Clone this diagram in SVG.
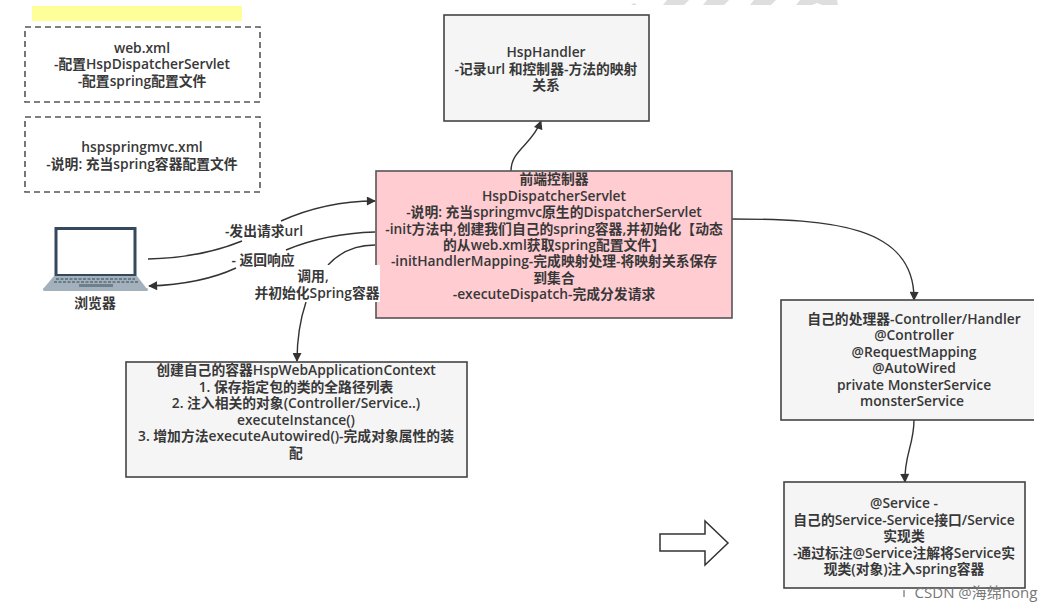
<svg xmlns="http://www.w3.org/2000/svg" width="1053" height="612" viewBox="0 0 1053 612">
<style>
text{font-family:"Open Sans","Noto Sans CJK SC",sans-serif;font-size:13.8px;font-weight:600;fill:#383838;text-anchor:middle}
.b{fill:#f5f5f5;stroke:#444;stroke-width:1.6}
.d{fill:#fff;stroke:#555;stroke-width:1.6;stroke-dasharray:6 4}
.c{fill:none;stroke:#333;stroke-width:1.4}
</style>
<defs><marker id="a" viewBox="0 0 10 10" refX="9" refY="5" markerWidth="10" markerHeight="9" markerUnits="userSpaceOnUse" orient="auto"><path d="M0 0L10 5L0 10Z" fill="#333"/></marker></defs>
<rect width="1053" height="612" fill="#fff"/>
<g id="stripes" fill="#dedede"><path d="M631 5L634 3L637 5Z"/><path d="M663 5L667 0H689L684 5Z"/><path d="M703 5L707 0H729L724 5Z"/><path d="M750 5L754 0H776L771 5Z"/><path d="M796 5L800 0H837L838 5H822L817 3L812 5Z"/></g>
<rect id="highlight" x="32" y="6" width="210" height="15" fill="#ffff99"/>
<g id="connectors">
<path class="c" d="M148 259C190 258 220 250 242 241"/>
<path class="c" d="M281 221C310 208 340 201 375 201" marker-end="url(#a)"/>
<path class="c" d="M375 232C340 233 310 240 286 250"/>
<path class="c" d="M236 268C210 280 180 285 149 286" marker-end="url(#a)"/>
<path class="c" d="M375 245C355 245 340 252 328 265"/>
<path class="c" d="M306 302C300 320 297 340 297 361" marker-end="url(#a)"/>
<path class="c" d="M511 171C511 150 532 145 541 121" marker-end="url(#a)"/>
<path class="c" d="M732 219C830 219 915 225 914 300" marker-end="url(#a)"/>
<path class="c" d="M914 420C914 445 904 455 905 482" marker-end="url(#a)"/>
</g>
<g id="web-xml"><rect class="d" x="25" y="27" width="235" height="75"/><text x="142" y="53">web.xml</text><text x="142" y="69">-配置HspDispatcherServlet</text><text x="142" y="86">-配置spring配置文件</text></g>
<g id="hspspringmvc"><rect class="d" x="25" y="117" width="235" height="75"/><text x="142" y="152">hspspringmvc.xml</text><text x="142" y="169">-说明: 充当spring容器配置文件</text></g>
<g id="browser">
<rect x="56" y="228.500" width="79" height="47" fill="#fff" stroke="#34495e" stroke-width="3"/>
<path d="M54 276H137L147 289H43Z" fill="#a3b1bc"/><rect x="43" y="288" width="105" height="3" rx="1.500" fill="#a3b1bc"/>
<path d="M56 279H135M54 282H138" stroke="#5a6b78" stroke-width="1.600" stroke-dasharray="3 1.500"/><rect x="79" y="284" width="34" height="3" fill="#6f7f8b"/>
<text x="95" y="308">浏览器</text></g>
<g id="handler"><rect class="b" x="444" y="15" width="205" height="106"/><text x="546" y="57">HspHandler</text><text x="546" y="74">-记录url 和控制器-方法的映射</text><text x="546" y="90">关系</text></g>
<g id="dispatcher"><rect x="376" y="171" width="356" height="147" fill="#ffccd2" stroke="#555" stroke-width="1.6"/>
<text x="554" y="184">前端控制器</text><text x="554" y="201">HspDispatcherServlet</text><text x="554" y="217">-说明: 充当springmvc原生的DispatcherServlet</text><text x="554" y="234">-init方法中,创建我们自己的spring容器,并初始化【动态</text><text x="554" y="250">的从web.xml获取spring配置文件】</text><text x="554" y="266">-initHandlerMapping-完成映射处理-将映射关系保存</text><text x="554" y="283">到集合</text><text x="554" y="299">-executeDispatch-完成分发请求</text></g>
<g id="labels"><rect x="252" y="265" width="128" height="37" fill="#fff"/><text x="264" y="236">-发出请求url</text><text x="263" y="265">- 返回响应</text><text x="313" y="281">调用,</text><text x="317" y="298">并初始化Spring容器</text></g>
<g id="context"><rect class="b" x="126" y="362" width="341" height="115"/><text x="296" y="375">创建自己的容器HspWebApplicationContext</text><text x="296" y="392">1. 保存指定包的类的全路径列表</text><text x="296" y="408">2. 注入相关的对象(Controller/Service..)</text><text x="296" y="425">executeInstance()</text><text x="296" y="441">3. 增加方法executeAutowired()-完成对象属性的装</text><text x="296" y="458">配</text></g>
<g id="controller"><rect class="b" x="781" y="300" width="260" height="120"/><rect x="1034" y="295" width="19" height="130" fill="#fff"/><text x="914" y="324">自己的处理器-Controller/Handler</text><text x="914" y="340">@Controller</text><text x="914" y="357">@RequestMapping</text><text x="914" y="373">@AutoWired</text><text x="914" y="390">private MonsterService</text><text x="912" y="406">monsterService</text></g>
<g id="service"><rect class="b" x="784" y="482" width="241" height="106"/><text x="904" y="508">@Service -</text><text x="904" y="525">自己的Service-Service接口/Service</text><text x="904" y="541">实现类</text><text x="904" y="558">-通过标注@Service注解将Service实</text><text x="904" y="574">现类(对象)注入spring容器</text></g>
<path id="block-arrow" d="M660 534H705V521L728 543L705 565V551H660Z" fill="#fff" stroke="#333" stroke-width="1.5"/>
<g id="watermark"><path d="M904 590V597" stroke="#555"/><text x="976" y="598" style="font-size:15px;font-weight:400;fill:#777">CSDN @海绵hong</text></g>
</svg>
